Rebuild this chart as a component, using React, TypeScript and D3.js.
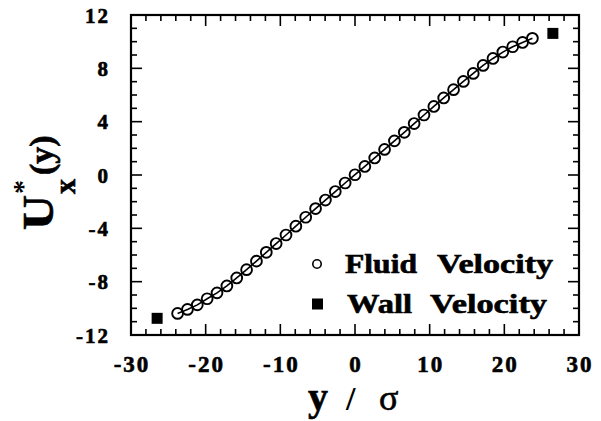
import React from 'react';
import * as d3 from 'd3';

const fluidX = [
  -23.76, -22.44, -21.12, -19.8, -18.48, -17.16, -15.84, -14.52, -13.2, -11.88,
  -10.56, -9.24, -7.92, -6.6, -5.28, -3.96, -2.64, -1.32, 0, 1.32,
  2.64, 3.96, 5.28, 6.6, 7.92, 9.24, 10.56, 11.88, 13.2, 14.52,
  15.84, 17.16, 18.48, 19.8, 21.12, 22.44, 23.76,
];
const fluidU = [
  -10.38, -10.08, -9.74, -9.28, -8.84, -8.32, -7.72, -7.1, -6.46, -5.8,
  -5.14, -4.5, -3.84, -3.17, -2.52, -1.88, -1.24, -0.6, 0.02, 0.64,
  1.28, 1.92, 2.56, 3.2, 3.86, 4.5, 5.14, 5.78, 6.4, 7.02,
  7.62, 8.22, 8.74, 9.22, 9.62, 9.94, 10.25,
];
const wallX = [-26.5, 26.5];
const wallU = [-10.75, 10.62];
const xTicks = [-30, -20, -10, 0, 10, 20, 30];
const yTicks = [-12, -8, -4, 0, 4, 8, 12];
const legendWords = [['Fluid', 'Velocity'], ['Wall', 'Velocity']];

const FONT = '"Liberation Serif", "Times New Roman", serif';

function fmt(v: number) {
  return v < 0 ? '-' + Math.abs(v) : String(v);
}

export default function App() {
  const L = 131, R = 579, T = 15, B = 335;
  const x = d3.scaleLinear().domain([-30, 30]).range([L, R]);
  const y = d3.scaleLinear().domain([-12, 12]).range([B, T]);
  const xMinor = d3.range(-30, 30.001, 2);
  const yMinor = d3.range(-12, 12.001, 1);
  const line = d3.line<number>().x((d, i) => x(fluidX[i])).y((d) => y(d));
  const isXMajor = (v: number) => Math.abs(v % 10) < 1e-6;
  const isYMajor = (v: number) => Math.abs(v % 4) < 1e-6;
  const majorLen = 11, minorLen = 6;
  const heavy = { stroke: '#000', strokeWidth: 0.6 };

  return (
    <svg width={601} height={421} style={{ position: 'absolute', left: 0, top: 0, background: '#fff' }}
      fontFamily={FONT} fontWeight="bold">
      <rect x={0} y={0} width={601} height={421} fill="#fff" />
      {/* ticks */}
      <g stroke="#000" strokeWidth={1.6}>
        {xMinor.map((v) => {
          const len = isXMajor(v) ? majorLen : minorLen;
          return (
            <g key={'xt' + v}>
              <line x1={x(v)} x2={x(v)} y1={B} y2={B - len} />
              <line x1={x(v)} x2={x(v)} y1={T} y2={T + len} />
            </g>
          );
        })}
        {yMinor.map((v) => {
          const len = isYMajor(v) ? majorLen : minorLen;
          return (
            <g key={'yt' + v}>
              <line x1={L} x2={L + len} y1={y(v)} y2={y(v)} />
              <line x1={R} x2={R - len} y1={y(v)} y2={y(v)} />
            </g>
          );
        })}
      </g>
      <rect x={L} y={T} width={R - L} height={B - T} fill="none" stroke="#000" strokeWidth={2.2} />
      {/* tick labels */}
      {xTicks.map((v) => (
        <text key={'xl' + v} x={x(v) + 1} y={372} fontSize={23} textAnchor="middle" letterSpacing={2} {...heavy}>
          {fmt(v)}
        </text>
      ))}
      {yTicks.map((v) => (
        <text key={'yl' + v} x={110} y={y(v) + 7.5} fontSize={21} textAnchor="end" letterSpacing={2} {...heavy}>
          {fmt(v)}
        </text>
      ))}
      {/* data */}
      <path d={line(fluidU) || ''} fill="none" stroke="#000" strokeWidth={1.6} />
      {fluidU.map((u, i) => (
        <circle key={'c' + i} cx={x(fluidX[i])} cy={y(u)} r={5.4} fill="none" stroke="#000" strokeWidth={1.9} />
      ))}
      {wallU.map((u, i) => (
        <rect key={'w' + i} x={x(wallX[i]) - 5.5} y={y(u) - 5.5} width={11} height={11} fill="#000" />
      ))}
      {/* legend */}
      <circle cx={317} cy={264} r={4.2} fill="none" stroke="#000" strokeWidth={1.6} />
      <text x={345} y={273} fontSize={27} textLength={72} lengthAdjust="spacingAndGlyphs" {...heavy}>{legendWords[0][0]}</text>
      <text x={437} y={273} fontSize={27} textLength={116} lengthAdjust="spacingAndGlyphs" {...heavy}>{legendWords[0][1]}</text>
      <rect x={312} y={298.5} width={11} height={11} fill="#000" />
      <text x={347} y={313} fontSize={27} textLength={65} lengthAdjust="spacingAndGlyphs" {...heavy}>{legendWords[1][0]}</text>
      <text x={430} y={313} fontSize={27} textLength={117} lengthAdjust="spacingAndGlyphs" {...heavy}>{legendWords[1][1]}</text>
      {/* x title */}
      <text x={308} y={410} fontSize={40} {...heavy}>y</text>
      <text x={346} y={410} fontSize={34}>/</text>
      <text x={379} y={410} fontSize={36} fontWeight="normal" {...heavy}>σ</text>
      {/* y title */}
      <g transform="translate(53,230) rotate(-90)">
        <text x={0} y={0} fontSize={44} textLength={35} lengthAdjust="spacingAndGlyphs" {...heavy}>U</text>
        <text x={36} y={-21} fontSize={28}>*</text>
        <text x={36} y={22} fontSize={30} {...heavy}>x</text>
        <text x={55} y={0} fontSize={34} {...heavy}>(y)</text>
      </g>
    </svg>
  );
}
